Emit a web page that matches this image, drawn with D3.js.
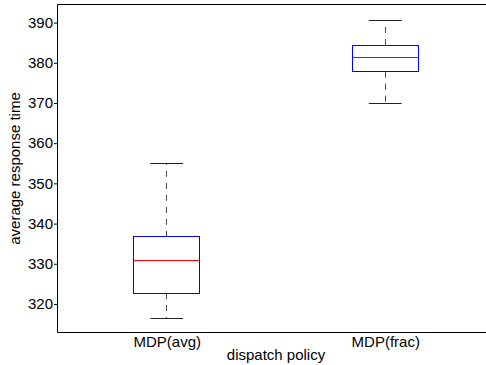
<!DOCTYPE html>
<html>
<head>
<meta charset="utf-8">
<script src="https://cdn.jsdelivr.net/npm/d3@7"></script>
<style>
  html, body { margin: 0; padding: 0; background: #fff; }
  svg { display: block; }
  text { font-family: "Liberation Sans", Arial, Helvetica, sans-serif; }
</style>
</head>
<body>
<svg id="chart" width="486" height="365"></svg>
<script>
// Box statistics per dispatch policy
const categories = ["MDP(avg)", "MDP(frac)"];
const lowerWhisker = [316.3, 369.8];
const q1 = [322.7, 377.8];
const median = [330.7, 381.4];
const q3 = [336.7, 384.4];
const upperWhisker = [355.0, 390.6];
const yTicks = [320, 330, 340, 350, 360, 370, 380, 390];

const svg = d3.select("#chart");
const fontSize = 15;

const plotLeft = 57.5, plotRight = 494.5, plotTop = 4.5, plotBottom = 332.5;

// Positions 1..n on a continuous axis from 0.5 to n + 0.5
const x = d3.scaleLinear().domain([0.5, categories.length + 0.5]).range([plotLeft, plotRight]);
const y = d3.scaleLinear().domain([312.9, 394.5]).range([plotBottom, plotTop]);
const boxHalf = 0.15;
const capHalf = 0.075;

const boxes = categories.map((c, i) => ({
  name: c, pos: i + 1,
  lo: lowerWhisker[i], q1: q1[i], med: median[i], q3: q3[i], hi: upperWhisker[i]
}));

// Axes frame: top and bottom edges
svg.append("line").attr("x1", plotLeft).attr("x2", 486).attr("y1", plotTop).attr("y2", plotTop)
  .attr("stroke", "#000").attr("stroke-width", 1);
svg.append("line").attr("x1", plotLeft).attr("x2", 486).attr("y1", plotBottom).attr("y2", plotBottom)
  .attr("stroke", "#000").attr("stroke-width", 1);

// Left axis
const yAxis = svg.append("g")
  .attr("transform", `translate(${plotLeft - 0.5},0)`)
  .call(d3.axisLeft(y).tickValues(yTicks).tickSize(3).tickSizeOuter(0).tickPadding(1));
yAxis.select(".domain").attr("d", `M0.5,${plotTop}V${plotBottom}`).attr("stroke", "#000");
yAxis.selectAll(".tick line").attr("stroke", "#000");
yAxis.selectAll("text").attr("font-size", fontSize).attr("fill", "#000")
  .style("font-family", "'Liberation Sans', Arial, sans-serif");

// Bottom axis: category labels only
const xAxis = svg.append("g")
  .attr("transform", `translate(0,${plotBottom})`)
  .call(d3.axisBottom(x).tickValues(boxes.map(b => b.pos))
    .tickFormat((d, i) => categories[i]).tickSize(0).tickPadding(4));
xAxis.select(".domain").remove();
xAxis.selectAll("text").attr("font-size", fontSize).attr("fill", "#000")
  .style("font-family", "'Liberation Sans', Arial, sans-serif");

const g = svg.append("g");
const crisp = v => Math.round(v - 0.5) + 0.5;

boxes.forEach(b => {
  const cx = crisp(x(b.pos));
  // Whiskers, dashed from box edge outward
  g.append("line").attr("x1", cx).attr("x2", cx)
    .attr("y1", y(b.q3)).attr("y2", y(b.hi))
    .attr("stroke", "#444").attr("stroke-width", 1).attr("stroke-dasharray", "6,6");
  g.append("line").attr("x1", cx).attr("x2", cx)
    .attr("y1", y(b.q1)).attr("y2", y(b.lo))
    .attr("stroke", "#444").attr("stroke-width", 1).attr("stroke-dasharray", "6,6");
  // Whisker caps
  [b.hi, b.lo].forEach(v => {
    g.append("line")
      .attr("x1", x(b.pos - capHalf)).attr("x2", x(b.pos + capHalf))
      .attr("y1", crisp(y(v))).attr("y2", crisp(y(v)))
      .attr("stroke", "#222").attr("stroke-width", 1);
  });
  // Box
  const x0 = crisp(x(b.pos - boxHalf)), x1 = crisp(x(b.pos + boxHalf));
  const yt = crisp(y(b.q3)), yb = crisp(y(b.q1));
  g.append("rect").attr("x", x0).attr("y", yt)
    .attr("width", x1 - x0).attr("height", yb - yt)
    .attr("fill", "none").attr("stroke", "#0000ff").attr("stroke-width", 1);
  // Median
  g.append("line").attr("x1", x0).attr("x2", x1)
    .attr("y1", crisp(y(b.med))).attr("y2", crisp(y(b.med)))
    .attr("stroke", "#ff0000").attr("stroke-width", 1);
});

// Axis titles
svg.append("text")
  .attr("x", (plotLeft + plotRight) / 2).attr("y", 360)
  .attr("text-anchor", "middle").attr("font-size", fontSize)
  .text("dispatch policy");
svg.append("text")
  .attr("transform", `translate(20,${(plotTop + plotBottom) / 2}) rotate(-90)`)
  .attr("text-anchor", "middle").attr("font-size", fontSize)
  .text("average response time");
</script>
</body>
</html>
